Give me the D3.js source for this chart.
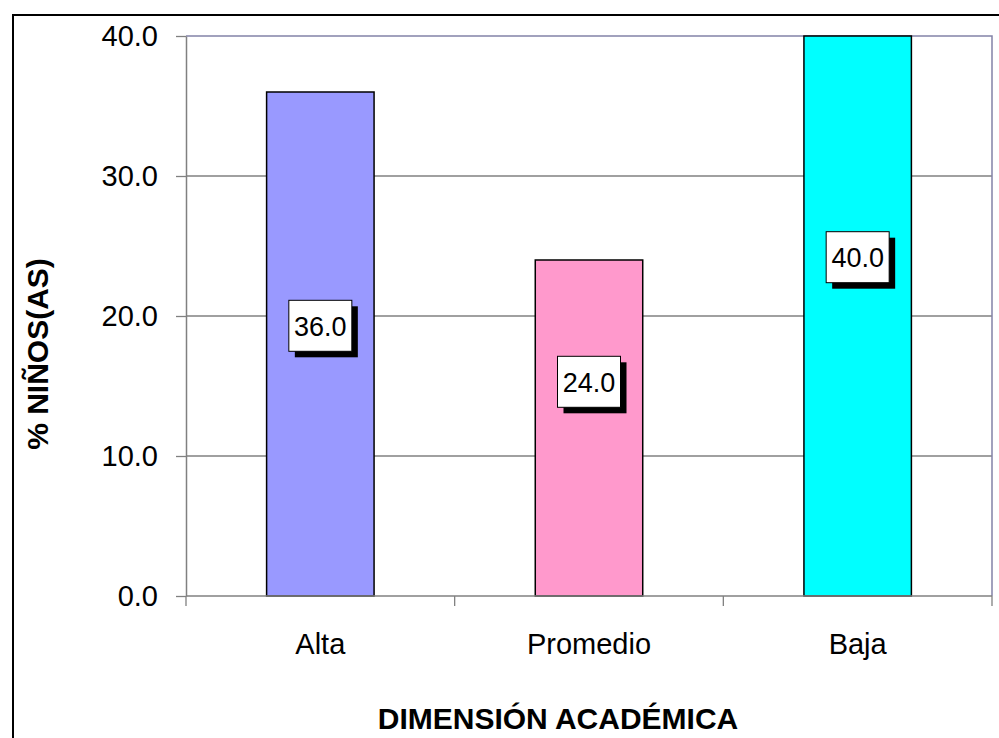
<!DOCTYPE html>
<html><head><meta charset="utf-8">
<script src="https://cdn.jsdelivr.net/npm/d3@7"></script>
<style>html,body{margin:0;padding:0;background:#fff;overflow:hidden}</style>
</head><body>
<svg id="c" width="999" height="738"></svg>
<script>
const categories = ["Alta", "Promedio", "Baja"];
const values = [36.0, 24.0, 40.0];
const colors = ["#9999FF", "#FF99CC", "#00FFFF"];
const labelAt = [19.3, 15.3, 24.2]; // value level where each data label sits
const yTicks = [0, 10, 20, 30, 40];
const yTitle = "% NIÑOS(AS)";
const xTitle = "DIMENSIÓN ACADÉMICA";

const svg = d3.select("#c");
const font = "Arial, 'Liberation Sans', sans-serif";
const L = 186, R = 992, T = 36, B = 596;

// outer chart border
svg.append("rect").attr("x", 13).attr("y", 15).attr("width", 1100).attr("height", 900)
  .attr("fill", "#fff").attr("stroke", "#000").attr("stroke-width", 2);

const x = d3.scaleBand().domain(categories).range([L, R]).paddingInner(0.6).paddingOuter(0.3);
const xb = d3.scaleBand().domain(categories).range([L, R]);
const y = d3.scaleLinear().domain([0, 40]).range([B, T]);

// gridlines
svg.append("g").selectAll("line").data(yTicks.filter(d => d > 0 && d < 40)).join("line")
  .attr("x1", L).attr("x2", R).attr("y1", d => y(d)).attr("y2", d => y(d))
  .attr("stroke", "#808080").attr("stroke-width", 1.3);
// plot border top/right
svg.append("path").attr("d", `M${L},${y(40)}H${R}V${B}`).attr("fill", "none")
  .attr("stroke", "#8282a8").attr("stroke-width", 1.5);

// bars
svg.append("g").selectAll("rect").data(categories).join("rect")
  .attr("x", d => x(d)).attr("width", x.bandwidth())
  .attr("y", (d, i) => y(values[i])).attr("height", (d, i) => y(0) - y(values[i]))
  .attr("fill", (d, i) => colors[i]).attr("stroke", "#000").attr("stroke-width", 1.5);

// y axis
const ya = svg.append("g").attr("transform", `translate(${L},0)`)
  .call(d3.axisLeft(y).tickValues(yTicks).tickFormat(d3.format(".1f")).tickSize(10).tickSizeOuter(0).tickPadding(18));
ya.select(".domain").attr("stroke", "#808080").attr("stroke-width", 1.5);
ya.selectAll(".tick line").attr("stroke", "#808080").attr("stroke-width", 1.3);
ya.selectAll("text").attr("font-family", font).attr("font-size", 29).attr("fill", "#000");

// x axis (ticks at category boundaries)
const xa = svg.append("g").attr("transform", `translate(0,${B})`);
xa.append("line").attr("x1", L).attr("x2", R).attr("stroke", "#808080").attr("stroke-width", 1.5);
const bounds = categories.map(c => xb(c)).concat([R]);
xa.selectAll(".tk").data(bounds).join("line").attr("class", "tk")
  .attr("x1", d => d).attr("x2", d => d).attr("y1", 0).attr("y2", 10)
  .attr("stroke", "#808080").attr("stroke-width", 1.3);
xa.selectAll(".lb").data(categories).join("text").attr("class", "lb")
  .attr("x", d => xb(d) + xb.bandwidth() / 2).attr("y", 58)
  .attr("text-anchor", "middle").attr("font-family", font).attr("font-size", 29).text(d => d);

// data labels
const lg = svg.append("g").selectAll("g").data(categories).join("g")
  .attr("transform", (d, i) => `translate(${x(d) + x.bandwidth() / 2},${y(labelAt[i])})`);
const bw = 63, bh = 51;
lg.append("rect").attr("x", -bw / 2 + 6).attr("y", -bh / 2 + 6).attr("width", bw).attr("height", bh).attr("fill", "#000");
lg.append("rect").attr("x", -bw / 2).attr("y", -bh / 2).attr("width", bw).attr("height", bh)
  .attr("fill", "#fff").attr("stroke", "#000").attr("stroke-width", 1);
lg.append("text").attr("text-anchor", "middle").attr("dy", "0.36em")
  .attr("font-family", font).attr("font-size", 27).text((d, i) => values[i].toFixed(1));

// axis titles
svg.append("text").attr("transform", "translate(37,354) rotate(-90)")
  .attr("text-anchor", "middle").attr("dy", "0.36em").attr("font-family", font)
  .attr("font-weight", "bold").attr("font-size", 30).text(yTitle);
svg.append("text").attr("x", 558).attr("y", 729).attr("text-anchor", "middle")
  .attr("font-family", font).attr("font-weight", "bold").attr("font-size", 30).text(xTitle);
</script>
</body></html>
